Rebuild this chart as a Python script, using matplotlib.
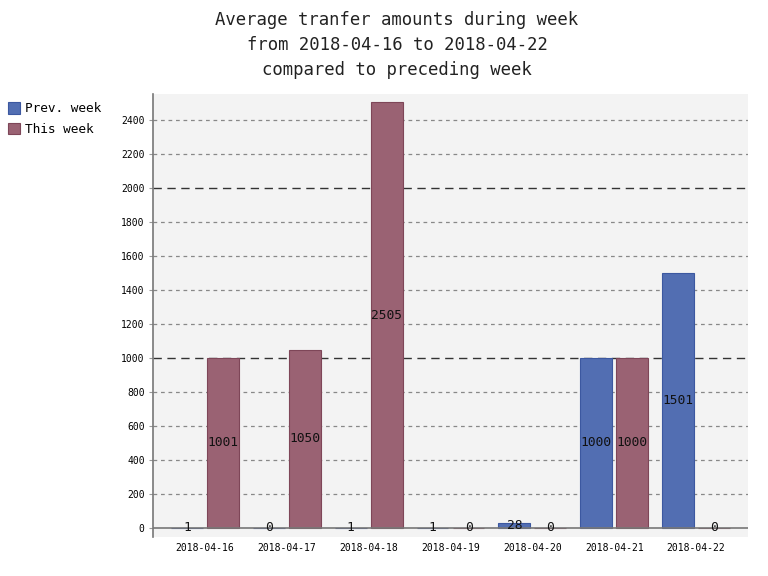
import matplotlib
matplotlib.use('Agg')
import matplotlib.pyplot as plt
import numpy as np

# data
days = ['2018-04-16', '2018-04-17', '2018-04-18', '2018-04-19',
        '2018-04-20', '2018-04-21', '2018-04-22']
prev_week = [1, 0, 1, 1, 28, 1000, 1501]
this_week = [1001, 1050, 2505, 0, 0, 1000, 0]
y_ticks = list(range(0, 2600, 200))

plt.rcParams['font.family'] = 'DejaVu Sans Mono'

fig = plt.figure(figsize=(7.68, 5.76), dpi=100)
ax = fig.add_axes([0.1992, 0.0677, 0.7748, 0.7691])
ax.set_facecolor('#f3f3f3')

ind = np.arange(len(days))
w = 0.39
off = 0.22
blue = '#526eb2'
red = '#9a6273'
b1 = ax.bar(ind - off, prev_week, w, color=blue, edgecolor='#3c58a0', linewidth=0.8, zorder=3)
b2 = ax.bar(ind + off, this_week, w, color=red, edgecolor='#7e4658', linewidth=0.8, zorder=3)

# value labels in the middle of each bar
for x, v in zip(ind - off, prev_week):
    ax.text(x, v / 2, str(v), ha='center', va='center', fontsize=9.3, color='#111111', zorder=5)
for x, v in zip(ind + off, this_week):
    ax.text(x, v / 2, str(v), ha='center', va='center', fontsize=9.3, color='#111111', zorder=5)

ax.set_xlim(-0.634, 6.634)
ax.set_ylim(-53, 2553)

# grid lines
for t in y_ticks[1:]:
    if t % 1000 == 0:
        ax.axhline(t, color='#333333', lw=1.0, ls=(0, (6, 4)), zorder=1)
    else:
        ax.axhline(t, color='#888888', lw=0.9, ls=(0, (3, 3)), zorder=1)
ax.axhline(0, color='#777777', lw=1.2, zorder=4)

ax.set_yticks(y_ticks)
ax.set_yticklabels([str(t) for t in y_ticks], fontsize=7)
ax.set_xticks(ind)
ax.set_xticklabels(days, fontsize=7)
ax.tick_params(axis='x', length=0, pad=4)
ax.tick_params(axis='y', length=3, color='#999999', pad=3)

for s in ['top', 'right', 'bottom']:
    ax.spines[s].set_visible(False)
ax.spines['left'].set_color('#777777')
ax.spines['left'].set_linewidth(1.2)

tc = '#222222'
fig.text(0.517, 0.965, 'Average tranfer amounts during week', ha='center', va='center', fontsize=12.4, color=tc)
fig.text(0.517, 0.922, 'from 2018-04-16 to 2018-04-22', ha='center', va='center', fontsize=12.4, color=tc)
fig.text(0.517, 0.879, 'compared to preceding week', ha='center', va='center', fontsize=12.4, color=tc)

fig.legend([b1, b2], ['Prev. week', 'This week'], loc='upper left',
           bbox_to_anchor=(-0.003, 0.84), frameon=False, fontsize=9.2,
           handlelength=0.95, handleheight=0.95, handletextpad=0.35,
           borderpad=0.3, labelspacing=0.6)

fig.savefig('out.png', dpi=100)
